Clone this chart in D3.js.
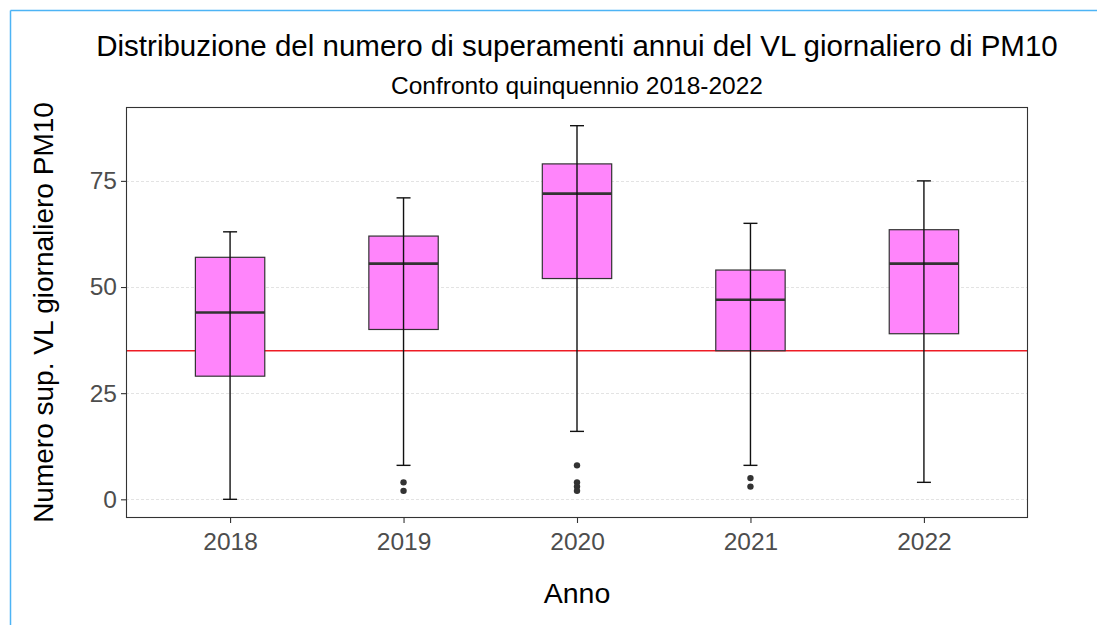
<!DOCTYPE html>
<html>
<head>
<meta charset="utf-8">
<script src="https://cdn.jsdelivr.net/npm/d3@7"></script>
<style>
body { margin: 0; background: #fff; }
text { font-family: "Liberation Sans", Arial, sans-serif; }
</style>
</head>
<body>
<svg id="chart"></svg>
<script>
const width = 1097, height = 625;

// data
const years = ['2018', '2019', '2020', '2021', '2022'];
const lowerWhisker = [0, 8, 16, 8, 4];
const q1 = [29, 40, 52, 35, 39];
const median = [44, 55.5, 72, 47, 55.5];
const q3 = [57, 62, 79, 54, 63.5];
const upperWhisker = [63, 71, 88, 65, 75];
const outliers = [[], [4, 2], [8, 4, 3, 2], [5, 3], []];
const yTicks = [0, 25, 50, 75];
const limit = 35;

const panel = { left: 126, top: 107, right: 1028, bottom: 518 };

const svg = d3.select('#chart')
    .attr('width', width)
    .attr('height', height);

// blue frame of the screenshot
svg.append('line').attr('x1', 10.5).attr('x2', width).attr('y1', 10.5).attr('y2', 10.5)
    .attr('stroke', '#4db4f5').attr('stroke-width', 1.5);
svg.append('line').attr('x1', 10.5).attr('x2', 10.5).attr('y1', 10.5).attr('y2', height)
    .attr('stroke', '#4db4f5').attr('stroke-width', 1.5);

// ggplot style discrete expansion: 0.6 of a step on each side
const step = (panel.right - panel.left) / (years.length - 1 + 1.2);
const x = d3.scalePoint()
    .domain(years)
    .range([panel.left + 0.6 * step, panel.right - 0.6 * step])
    .padding(0);

const y = d3.scaleLinear()
    .domain([-4.4, 92.4])
    .range([panel.bottom, panel.top]);

const boxW = 0.4 * step;
const capW = 14;

// grid
svg.append('g').selectAll('line').data(yTicks).join('line')
    .attr('x1', panel.left).attr('x2', panel.right)
    .attr('y1', d => Math.round(y(d)) + 0.5).attr('y2', d => Math.round(y(d)) + 0.5)
    .attr('stroke', '#e3e3e3').attr('stroke-dasharray', '3,2');

// limit line
svg.append('line')
    .attr('x1', panel.left).attr('x2', panel.right)
    .attr('y1', y(limit)).attr('y2', y(limit))
    .attr('stroke', '#ee1c25').attr('stroke-width', 1.6);

const boxes = svg.append('g').selectAll('g').data(years).join('g')
    .attr('transform', d => `translate(${x(d)},0)`);

boxes.append('rect')
    .attr('x', -boxW / 2).attr('width', boxW)
    .attr('y', (d, i) => y(q3[i]))
    .attr('height', (d, i) => y(q1[i]) - y(q3[i]))
    .attr('fill', '#ff85fb').attr('stroke', '#333').attr('stroke-width', 1.2);

boxes.append('line')
    .attr('x1', -boxW / 2).attr('x2', boxW / 2)
    .attr('y1', (d, i) => y(median[i])).attr('y2', (d, i) => y(median[i]))
    .attr('stroke', '#333').attr('stroke-width', 2.6);

// whiskers (errorbar over box)
boxes.append('line')
    .attr('x1', 0).attr('x2', 0)
    .attr('y1', (d, i) => y(upperWhisker[i])).attr('y2', (d, i) => y(lowerWhisker[i]))
    .attr('stroke', '#111').attr('stroke-width', 1.4);
boxes.append('line')
    .attr('x1', -capW / 2).attr('x2', capW / 2)
    .attr('y1', (d, i) => y(upperWhisker[i])).attr('y2', (d, i) => y(upperWhisker[i]))
    .attr('stroke', '#111').attr('stroke-width', 1.4);
boxes.append('line')
    .attr('x1', -capW / 2).attr('x2', capW / 2)
    .attr('y1', (d, i) => y(lowerWhisker[i])).attr('y2', (d, i) => y(lowerWhisker[i]))
    .attr('stroke', '#111').attr('stroke-width', 1.4);

boxes.each(function (d, i) {
    d3.select(this).selectAll('circle').data(outliers[i]).join('circle')
        .attr('cx', 0).attr('cy', v => y(v)).attr('r', 3.2)
        .attr('fill', '#333');
});

// panel border
svg.append('rect')
    .attr('x', panel.left + 0.5).attr('y', panel.top + 0.5)
    .attr('width', panel.right - panel.left - 1).attr('height', panel.bottom - panel.top - 1)
    .attr('fill', 'none').attr('stroke', '#333').attr('stroke-width', 1.1);

// axes
const yAxis = svg.append('g')
    .attr('transform', `translate(${panel.left},0)`)
    .call(d3.axisLeft(y).tickValues(yTicks).tickSize(5).tickPadding(4));
const xAxis = svg.append('g')
    .attr('transform', `translate(0,${panel.bottom})`)
    .call(d3.axisBottom(x).tickSize(5).tickPadding(4));
[yAxis, xAxis].forEach(a => {
    a.select('.domain').remove();
    a.selectAll('.tick line').attr('stroke', '#333').attr('stroke-width', 1.1);
    a.selectAll('.tick text').attr('fill', '#4d4d4d')
        .style('font-size', '24.5px').style('font-family', '"Liberation Sans", Arial, sans-serif');
});
xAxis.selectAll('.tick text').attr('dy', '0.93em');

// titles
svg.append('text')
    .attr('x', 577).attr('y', 56)
    .attr('text-anchor', 'middle')
    .style('font-size', '29.5px').attr('fill', '#000')
    .text('Distribuzione del numero di superamenti annui del VL giornaliero di PM10');
svg.append('text')
    .attr('x', 577).attr('y', 94)
    .attr('text-anchor', 'middle')
    .style('font-size', '24.5px').attr('fill', '#000')
    .text('Confronto quinquennio 2018-2022');
svg.append('text')
    .attr('x', 577).attr('y', 603)
    .attr('text-anchor', 'middle')
    .style('font-size', '28.5px').attr('fill', '#000')
    .text('Anno');
svg.append('text')
    .attr('transform', `translate(53,${(panel.top + panel.bottom) / 2}) rotate(-90)`)
    .attr('text-anchor', 'middle')
    .style('font-size', '28px').attr('fill', '#000')
    .text('Numero sup. VL giornaliero PM10');
</script>
</body>
</html>
